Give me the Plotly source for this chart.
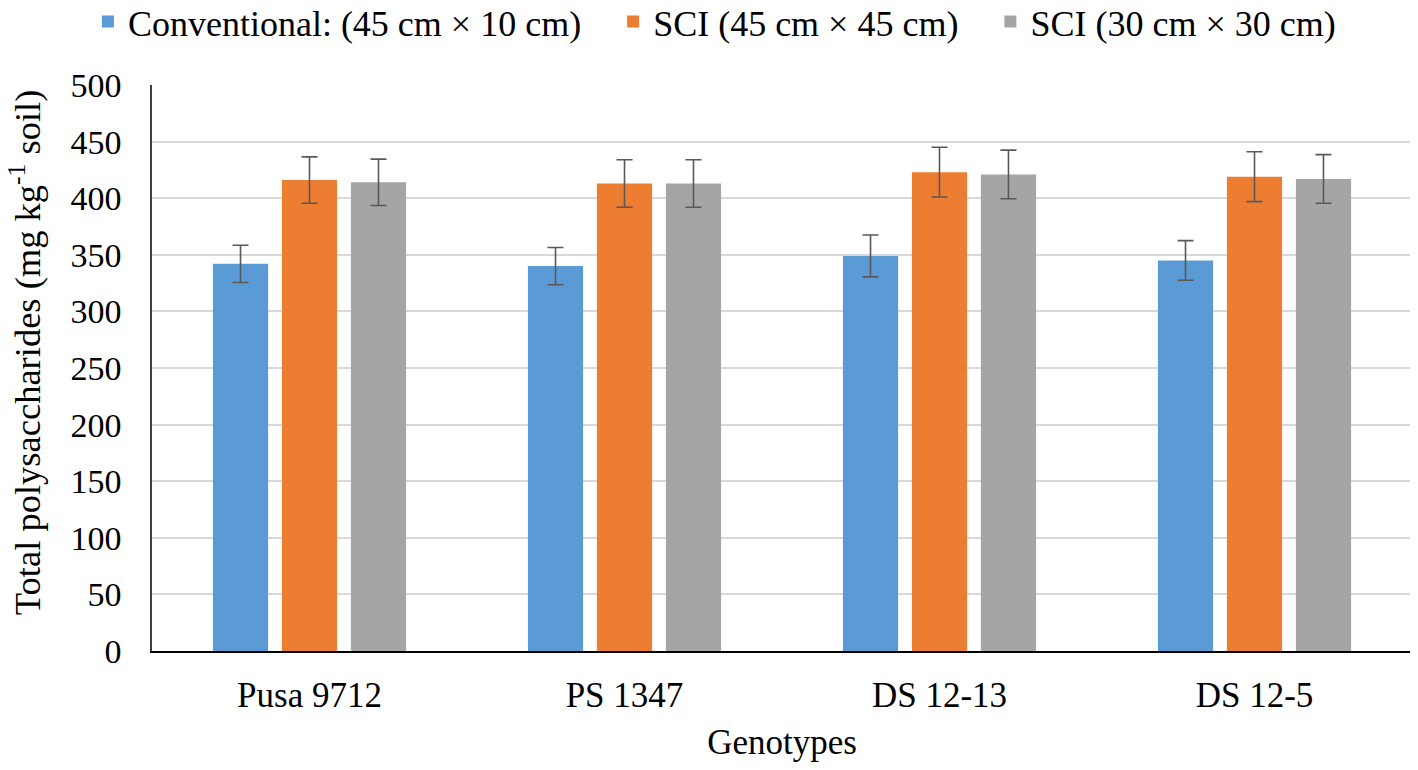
import plotly.graph_objects as go

categories = ["Pusa 9712", "PS 1347", "DS 12-13", "DS 12-5"]
series_names = ["Conventional: (45 cm × 10 cm)", "SCI (45 cm × 45 cm)", "SCI (30 cm × 30 cm)"]
conventional = [342, 340, 349, 345]
sci_45 = [416, 413, 423, 419]
sci_30 = [414, 413, 421, 417]
err_conventional = [16.5, 16.5, 18.5, 17.5]
err_sci_45 = [20.5, 21, 22, 22]
err_sci_30 = [20.5, 21, 21.5, 21.5]
colors = ["#5b9bd5", "#ed7d31", "#a5a5a5"]
y_ticks = [0, 50, 100, 150, 200, 250, 300, 350, 400, 450, 500]
y_title = "Total polysaccharides (mg kg<sup>-1</sup> soil)"
x_title = "Genotypes"

font_family = "Liberation Serif"
NB = "\u00a0"
pads = [NB * 3, NB * 3, ""]

fig = go.Figure()
for name, pad, vals, errs, col in zip(series_names, pads, [conventional, sci_45, sci_30],
                                      [err_conventional, err_sci_45, err_sci_30], colors):
    fig.add_trace(go.Bar(
        x=categories, y=vals, name=name + pad,
        marker=dict(color=col, line=dict(width=0)),
        error_y=dict(type="data", array=errs, visible=True, color="#595959",
                     thickness=1.6, width=8),
    ))

fig.update_layout(
    width=1410, height=762,
    paper_bgcolor="white", plot_bgcolor="white",
    margin=dict(l=144, r=6, t=77, b=119, autoexpand=False),
    barmode="group", bargap=0.343, bargroupgap=0.2,
    font=dict(family=font_family, color="#000000", size=34),
    legend=dict(orientation="h", xref="container", x=0.501, xanchor="center",
                y=0.982, yanchor="middle", yref="container",
                font=dict(family=font_family, size=36), itemwidth=30,
                traceorder="normal", tracegroupgap=0),
    xaxis=dict(
        title=dict(text=x_title, font=dict(family=font_family, size=35), standoff=16),
        showline=True, linecolor="#000000", linewidth=1.5,
        ticks="", tickfont=dict(family=font_family, size=35), ticklabelstandoff=12,
    ),
    yaxis=dict(
        range=[0, 500], tickvals=y_ticks, ticktext=[str(t) for t in y_ticks],
        showline=True, linecolor="#404040", linewidth=1.5,
        showgrid=True, gridcolor="#d9d9d9", gridwidth=1.5,
        ticks="", tickfont=dict(family=font_family, size=34), zeroline=False,
        ticklabelstandoff=22,
    ),
    annotations=[dict(
        text=y_title, textangle=-90, showarrow=False,
        xref="paper", x=-(144 - 17) / 1260.0, xanchor="center",
        yref="paper", y=0.528, yanchor="middle",
        font=dict(family=font_family, size=36.5, color="#000000"),
    )],
)

fig.write_html("out.html")
